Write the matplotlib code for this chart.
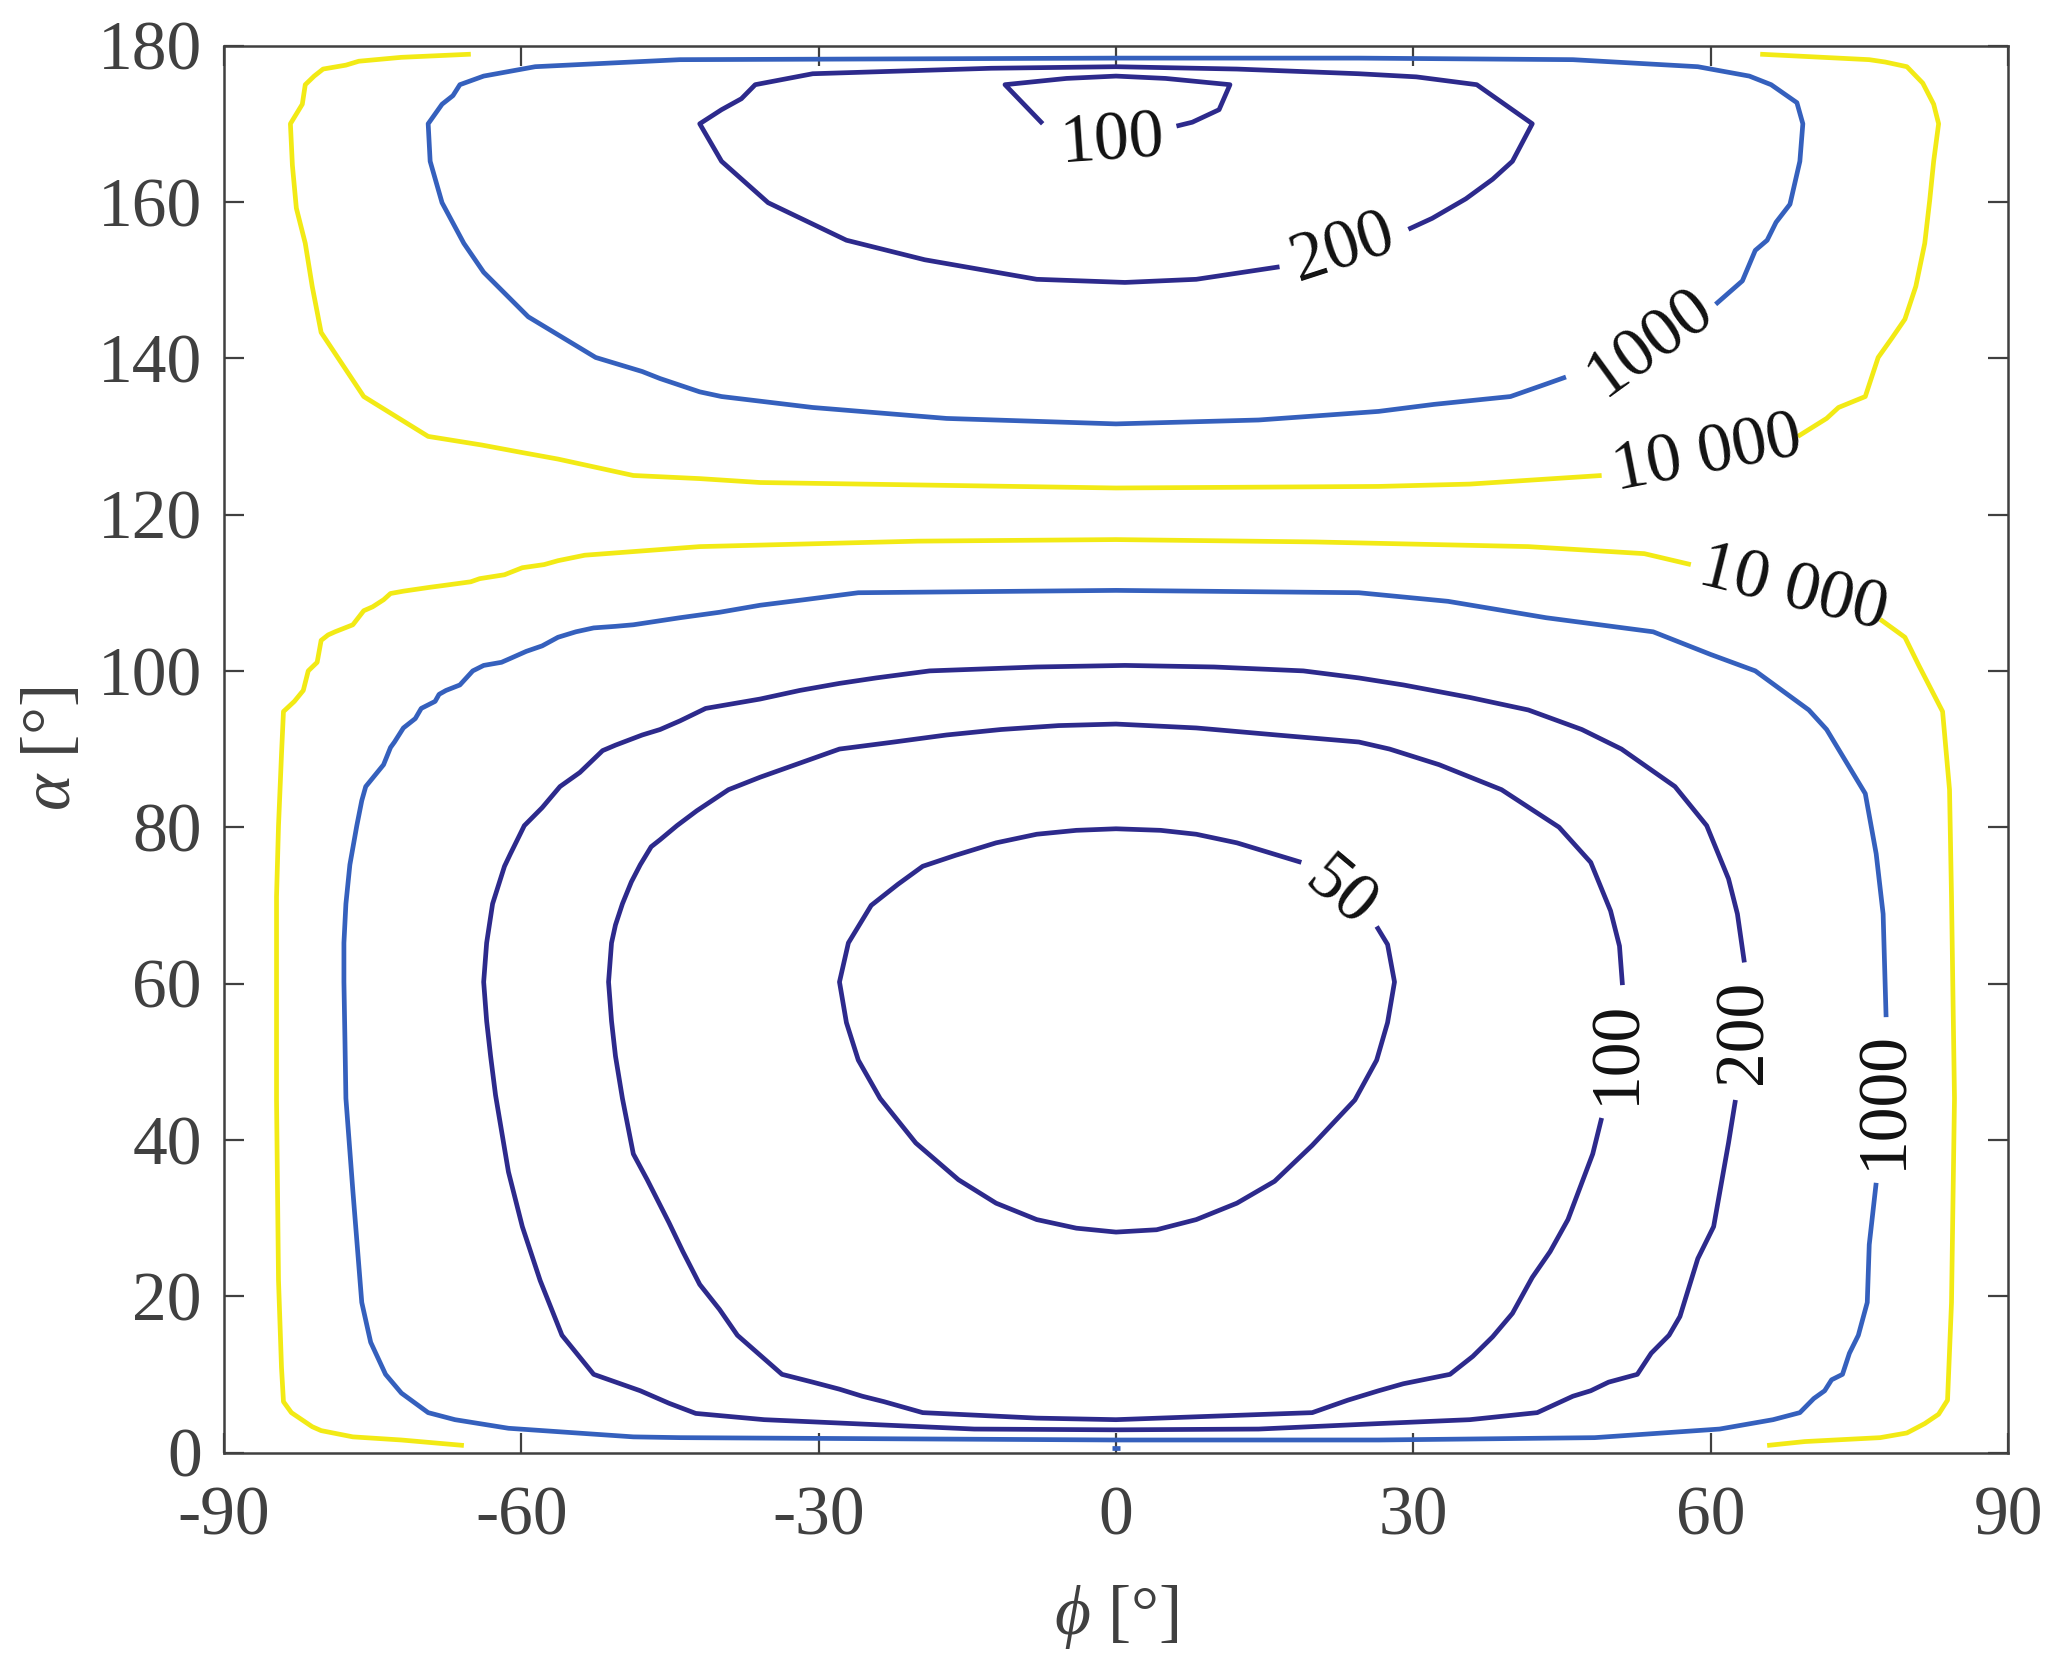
import matplotlib
matplotlib.use("Agg")
import matplotlib.pyplot as plt

plt.rcParams['font.family'] = ['Liberation Serif', 'DejaVu Serif']
plt.rcParams['mathtext.fontset'] = 'custom'
plt.rcParams['mathtext.rm'] = 'Liberation Serif'
plt.rcParams['mathtext.it'] = 'Liberation Serif:italic'

# ---------------- data: contour lines (phi [deg], alpha [deg]) -------------
c50 = [(18.7, 75.5), (12.2, 78.0), (8.1, 79.1), (4.5, 79.6), (0.0, 79.8), (-4.0, 79.6), (-8.0, 79.1),
       (-12.1, 78.0), (-16.2, 76.4), (-19.5, 75.0), (-22.0, 72.7), (-24.7, 70.0), (-27.0, 65.2),
       (-27.9, 60.2), (-27.2, 55.0), (-26.0, 50.2), (-23.8, 45.3), (-20.2, 39.6), (-15.9, 34.9),
       (-12.1, 31.9), (-8.0, 29.8), (-4.0, 28.7), (0.0, 28.2), (4.1, 28.5), (8.1, 29.8), (12.2, 31.9),
       (16.0, 34.7), (19.8, 39.3), (24.1, 45.1), (26.3, 50.2), (27.4, 55.0), (28.1, 60.2), (27.4, 65.0),
       (26.3, 67.3)]

c100_low = [(51.1, 59.8), (50.8, 64.8), (49.9, 69.3), (47.9, 75.5), (44.7, 80.0), (38.9, 84.8),
            (32.6, 88.0), (27.6, 90.0), (24.5, 90.9), (16.2, 91.8), (8.1, 92.7), (0.0, 93.2),
            (-5.8, 93.0), (-11.6, 92.5), (-17.1, 91.8), (-22.4, 90.9), (-27.9, 90.0), (-31.9, 88.2),
            (-35.9, 86.4), (-39.1, 84.8), (-42.3, 82.1), (-44.3, 80.2), (-46.0, 78.4), (-46.9, 77.5),
            (-48.0, 75.2), (-48.9, 73.0), (-49.8, 70.2), (-50.5, 67.5), (-50.9, 65.2), (-51.2, 60.2),
            (-50.9, 55.2), (-50.5, 50.7), (-49.8, 45.3), (-48.7, 38.2), (-47.3, 34.9), (-45.1, 29.4),
            (-43.7, 25.7), (-42.0, 21.5), (-40.0, 18.3), (-38.2, 15.0), (-33.7, 10.0), (-30.6, 9.0),
            (-27.9, 8.1), (-25.6, 7.2), (-23.4, 6.5), (-19.5, 5.1), (-8.0, 4.4), (0.0, 4.2),
            (19.8, 5.1), (23.4, 6.7), (26.5, 7.9), (29.0, 8.8), (33.7, 10.0), (36.0, 12.3),
            (38.0, 14.8), (40.0, 17.8), (42.0, 22.4), (43.8, 25.7), (45.6, 29.8), (48.1, 38.2),
            (49.0, 42.8)]

c200_low = [(63.4, 62.7), (62.7, 68.9), (61.8, 73.4), (59.6, 80.2), (56.4, 85.2), (51.0, 90.0),
            (47.0, 92.5), (41.6, 95.0), (35.7, 96.6), (29.0, 98.2), (24.5, 99.1), (18.9, 100.0),
            (9.9, 100.5), (0.9, 100.7), (-8.0, 100.5), (-18.8, 100.0), (-24.2, 99.1), (-27.9, 98.4),
            (-31.9, 97.5), (-35.9, 96.4), (-41.4, 95.2), (-44.0, 93.6), (-46.0, 92.5), (-47.8, 91.8),
            (-50.5, 90.5), (-51.8, 89.8), (-54.1, 87.0), (-56.1, 85.2), (-57.9, 82.5), (-59.7, 80.2),
            (-61.1, 76.6), (-61.7, 75.0), (-62.9, 70.2), (-63.5, 65.2), (-63.8, 60.2), (-63.5, 55.2),
            (-63.1, 50.7), (-62.6, 45.7), (-61.3, 35.9), (-59.9, 28.9), (-58.1, 22.0), (-55.9, 15.0),
            (-52.7, 10.0), (-48.0, 7.9), (-45.1, 6.3), (-42.4, 5.0), (-35.5, 4.2), (-14.3, 3.0),
            (0.0, 2.9), (14.4, 3.0), (26.5, 3.7), (35.7, 4.2), (42.5, 5.1), (46.1, 7.2), (47.9, 7.9),
            (49.7, 9.0), (52.6, 10.0), (54.0, 12.7), (55.8, 15.0), (56.9, 17.4), (58.7, 24.8),
            (60.3, 28.9), (61.8, 39.6), (62.5, 45.1)]

c1000_low = [(77.7, 55.7), (77.4, 68.9), (76.7, 76.6), (75.6, 84.3), (71.7, 92.5), (69.9, 95.0),
             (64.5, 100.0), (60.0, 102.1), (54.2, 105.0), (43.4, 106.8), (33.5, 108.9), (24.5, 110.0),
             (0.0, 110.3), (-26.0, 110.0), (-31.5, 109.1), (-35.9, 108.4), (-40.0, 107.5),
             (-44.0, 106.8), (-48.7, 105.9), (-50.5, 105.7), (-52.7, 105.5), (-54.5, 105.0),
             (-56.3, 104.3), (-57.9, 103.2), (-59.5, 102.5), (-61.1, 101.6), (-62.0, 101.1),
             (-63.8, 100.7), (-64.9, 100.0), (-66.2, 98.2), (-67.6, 97.5), (-68.3, 97.0), (-68.7, 96.1),
             (-70.1, 95.2), (-70.7, 93.9), (-71.9, 92.7), (-72.8, 90.9), (-73.2, 90.2), (-73.9, 88.0),
             (-74.8, 86.6), (-75.7, 85.2), (-76.1, 83.4), (-76.6, 80.2), (-77.3, 75.2), (-77.7, 70.2),
             (-77.9, 65.2), (-77.9, 60.2), (-77.8, 53.0), (-77.7, 45.3), (-77.0, 33.5), (-76.1, 19.2),
             (-75.2, 14.1), (-73.7, 10.0), (-72.1, 7.6), (-69.4, 5.1), (-66.7, 4.2), (-61.3, 3.1),
             (-48.7, 2.0), (-44.0, 1.9), (0.0, 1.6), (26.5, 1.6), (48.3, 1.9), (60.9, 3.0), (66.3, 4.2),
             (69.0, 5.1), (70.4, 6.9), (71.5, 7.9), (72.2, 9.3), (73.3, 10.0), (74.0, 12.7),
             (74.9, 15.0), (75.8, 19.2), (76.0, 26.6), (76.7, 34.5)]

c1000_dot = [(-0.4, 0.6), (0.4, 0.6)]

c10000_low_a = [(-65.8, 0.9), (-72.1, 1.6), (-77.0, 2.0), (-80.2, 2.8), (-81.1, 3.3), (-83.2, 5.1),
                (-84.0, 6.5), (-84.2, 10.9), (-84.5, 22.0), (-84.7, 45.1), (-84.7, 71.1), (-84.5, 80.2),
                (-84.2, 89.3), (-84.0, 94.8), (-82.9, 96.1), (-82.0, 97.5), (-81.5, 100.0),
                (-80.6, 101.1), (-80.2, 103.9), (-79.5, 104.6), (-78.8, 105.0), (-77.0, 105.9),
                (-75.9, 107.7), (-75.0, 108.2), (-73.9, 109.1), (-73.2, 109.9), (-71.9, 110.2),
                (-69.2, 110.7), (-68.0, 110.9), (-65.1, 111.4), (-64.2, 111.8), (-61.7, 112.3),
                (-59.9, 113.2), (-57.7, 113.6), (-56.3, 114.1), (-53.6, 114.8), (-42.0, 115.9),
                (-20.0, 116.6), (0.0, 116.8), (20.0, 116.5), (41.6, 115.9), (53.3, 115.0), (58.0, 113.6)]
c10000_low_b = [(77.1, 106.6), (79.6, 104.3), (81.0, 100.7), (83.4, 94.8), (84.1, 84.8), (84.3, 71.1),
                (84.6, 45.3), (84.3, 19.2), (83.9, 6.7), (83.0, 4.9), (81.6, 3.7), (79.8, 2.5),
                (77.1, 1.9), (69.5, 1.4), (65.7, 0.9)]

c100_up = [(-7.4, 170.0), (-11.2, 175.0), (-5.0, 175.8), (0.0, 176.1), (5.0, 175.8), (11.5, 175.0),
           (10.4, 171.8), (7.7, 170.2), (6.1, 169.7)]

c200_up = [(29.5, 156.5), (31.9, 157.9), (35.3, 160.4), (38.0, 162.9), (40.0, 165.2), (42.0, 170.0),
           (36.4, 175.0), (30.3, 176.0), (24.5, 176.4), (12.2, 177.0), (0.0, 177.3), (-12.6, 177.1),
           (-30.6, 176.4), (-36.4, 175.0), (-37.8, 173.2), (-39.8, 171.8), (-42.0, 170.0),
           (-39.8, 165.2), (-35.1, 159.9), (-27.2, 155.1), (-19.3, 152.6), (-8.0, 150.1), (0.9, 149.7),
           (8.1, 150.1), (16.5, 151.7)]

c1000_up = [(60.5, 146.9), (63.2, 149.9), (64.5, 153.8), (65.7, 155.1), (66.6, 157.4), (68.0, 159.7),
            (69.0, 165.2), (69.3, 170.0), (68.7, 172.7), (66.1, 175.0), (63.9, 176.1), (58.7, 177.3),
            (46.1, 178.2), (24.5, 178.4), (0.0, 178.4), (-44.0, 178.2), (-58.6, 177.3), (-63.8, 176.1),
            (-66.2, 175.0), (-66.9, 173.6), (-68.0, 172.5), (-69.4, 170.0), (-69.2, 165.2),
            (-68.0, 159.9), (-65.8, 154.7), (-63.8, 151.0), (-59.3, 145.3), (-52.5, 140.1),
            (-47.8, 138.3), (-46.0, 137.4), (-42.0, 135.7), (-39.8, 135.1), (-30.6, 133.7),
            (-17.1, 132.3), (0.0, 131.6), (14.4, 132.1), (26.5, 133.2), (32.1, 134.1), (39.8, 135.1),
            (43.4, 136.7), (45.4, 137.6)]

c10000_up_a = [(-65.1, 178.9), (-72.1, 178.5), (-76.4, 178.0), (-77.7, 177.5), (-80.0, 177.0),
               (-80.9, 176.1), (-81.8, 175.0), (-82.1, 172.5), (-83.3, 170.0), (-83.1, 164.7),
               (-82.7, 159.2), (-81.8, 154.7), (-81.1, 149.2), (-80.2, 143.3), (-75.9, 135.1),
               (-69.4, 130.0), (-64.0, 128.9), (-60.2, 128.0), (-56.3, 127.1), (-48.7, 125.0),
               (-42.0, 124.6), (-35.9, 124.1), (0.0, 123.4), (26.5, 123.6), (35.7, 123.9), (49.0, 125.0)]
c10000_up_b = [(68.8, 130.0), (71.7, 132.3), (72.9, 133.7), (75.6, 135.1), (76.9, 140.1), (78.3, 142.6),
               (79.6, 145.0), (80.7, 149.2), (81.6, 154.7), (82.1, 160.2), (82.5, 165.2), (83.0, 170.0),
               (82.5, 172.5), (81.4, 175.2), (79.8, 177.3), (77.6, 177.9), (76.0, 178.2), (65.0, 178.9)]

levels = [50, 100, 200, 1000, 10000]
level_colors = {50: '#2d2a8c', 100: '#2d2a8c', 200: '#2d2a8c', 1000: '#3560bd', 10000: '#f2ea15'}

contour_lines = [
    (50, c50), (100, c100_low), (200, c200_low), (1000, c1000_low), (1000, c1000_dot),
    (10000, c10000_low_a), (10000, c10000_low_b),
    (100, c100_up), (200, c200_up), (1000, c1000_up), (10000, c10000_up_a), (10000, c10000_up_b),
]

# inline contour labels: text, phi, alpha, rotation
label_text = ['100', '200', '1000', '10 000', '10 000', '50', '100', '200', '1000']
label_phi = [-0.3, 22.9, 54.0, 59.7, 68.3, 22.6, 50.6, 63.4, 77.6]
label_alpha = [167.6, 153.9, 141.9, 127.5, 110.3, 71.4, 51.2, 53.8, 45.1]
label_rot = [4, 18, 36, 11, -14, -40, 90, 90, 90]

xticks = [-90, -60, -30, 0, 30, 60, 90]
xtick_labels = ['-90', '-60', '-30', '0', '30', '60', '90']
yticks = [0, 20, 40, 60, 80, 100, 120, 140, 160, 180]

# ---------------- figure -------------
W, H, DPI = 2067, 1668, 200
fig = plt.figure(figsize=(W / DPI, H / DPI), dpi=DPI)
ax = fig.add_axes([224 / W, 1 - 1452.5 / H, (2008 - 224) / W, (1452.5 - 45.6) / H])

gray = '#404040'
FS = 25
for lev, pts in contour_lines:
    xs = [p[0] for p in pts]
    ys = [p[1] for p in pts]
    ax.plot(xs, ys, color=level_colors[lev], lw=1.7, solid_joinstyle='round', solid_capstyle='butt')

for t, x, y, r in zip(label_text, label_phi, label_alpha, label_rot):
    ax.text(x, y, t, rotation=r, rotation_mode='anchor', ha='center', va='center',
            fontsize=FS, color='#111111')

ax.set_xlim(-90, 90)
ax.set_ylim(0, 180)
ax.set_xticks(xticks)
ax.set_xticklabels(xtick_labels)
ax.set_yticks(yticks)
ax.tick_params(direction='in', length=7.2, width=0.8, color=gray, labelcolor=gray,
               labelsize=FS, top=True, right=True)
ax.tick_params(axis='x', pad=12)
ax.tick_params(axis='y', pad=8)
for s in ax.spines.values():
    s.set_color(gray)
    s.set_linewidth(0.9)

ax.set_xlabel(r'$\phi$ [°]', fontsize=FS, color=gray)
ax.set_ylabel(r'$\alpha$ [°]', fontsize=FS, color=gray)
ax.xaxis.set_label_coords(0.5, -0.093)
ax.yaxis.set_label_coords(-0.078, 0.5)

fig.savefig('out.png', dpi=DPI, facecolor='white')
